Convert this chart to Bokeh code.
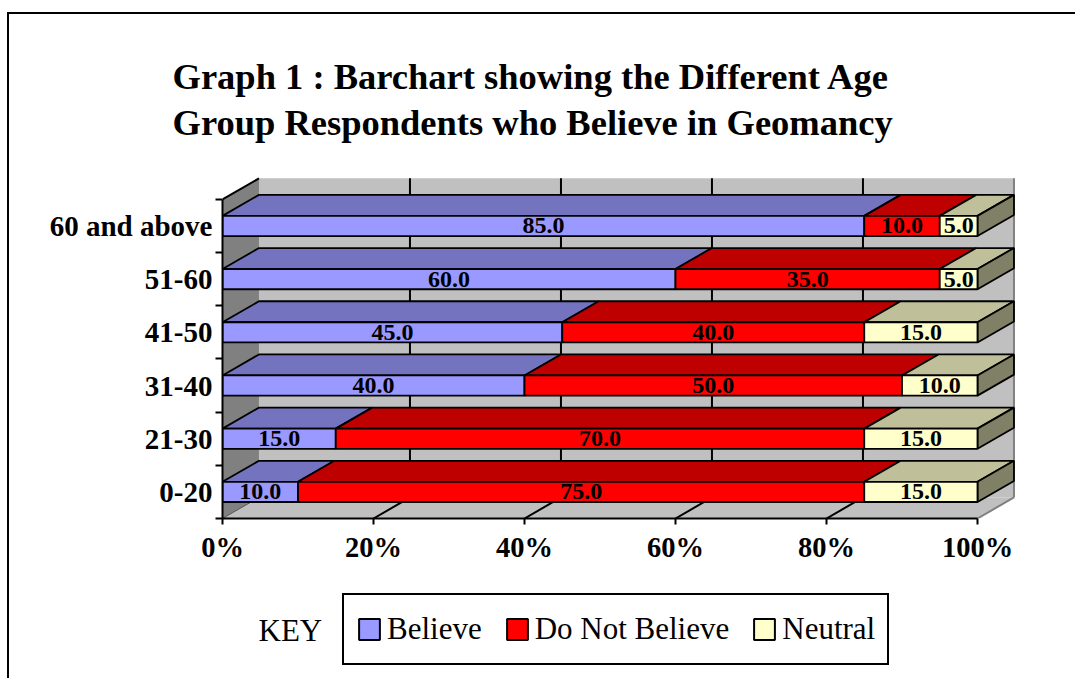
from bokeh.plotting import figure
from bokeh.layouts import column
from bokeh.models import (ColumnDataSource, Range1d, FixedTicker, LinearAxis,
                          Legend, LegendItem, Label)
from bokeh.core.properties import value
from bokeh.embed import file_html
from bokeh.resources import INLINE

# ---------------- data ----------------
categories = ["0-20", "21-30", "31-40", "41-50", "51-60", "60 and above"]
believe = [10.0, 15.0, 40.0, 45.0, 60.0, 85.0]
not_believe = [75.0, 70.0, 50.0, 40.0, 35.0, 10.0]
neutral = [15.0, 15.0, 10.0, 15.0, 5.0, 5.0]
series_names = ["Believe", "Do Not Believe", "Neutral"]
x_ticks = [0, 20, 40, 60, 80, 100]
x_tick_labels = ["0%", "20%", "40%", "60%", "80%", "100%"]

front_colors = ["#9999FF", "#FF0000", "#FFFFCC"]
top_colors = ["#7373BF", "#BF0000", "#BFBF99"]
side_colors = ["#4D4D80", "#800000", "#808066"]

# 3-D geometry (data units)
DX = 4.83      # depth offset along x (percent units)
DY = 0.395     # depth offset along y (category units)
HALF = 0.19    # half thickness of a bar
NROW = len(categories)
FONT = "Liberation Serif"

W = 1066
BL, BR = 213, 53
p = figure(width=W, height=570, output_backend="svg", toolbar_location=None,
           x_range=Range1d(0, 105.96), y_range=Range1d(0, 6.43),
           min_border_left=BL, min_border_right=BR, min_border_top=162,
           min_border_bottom=66, x_axis_location=None, y_axis_location=None)
p.outline_line_color = None
p.xgrid.grid_line_color = None
p.ygrid.grid_line_color = None
p.background_fill_color = "white"
p.border_fill_color = "white"

# title
p.title.text = "Graph 1 : Barchart showing the Different Age\nGroup Respondents who Believe in Geomancy"
p.title.text_font = FONT
p.title.text_font_size = "36.5px"
p.title.text_font_style = "bold"
p.title.text_color = "black"
p.title.align = "left"
p.title.offset = -50
p.title.standoff = 66
p.title.text_line_height = 1.13

# ---------------- walls and floor ----------------
p.patch([DX, 100 + DX, 100 + DX, DX], [DY, DY, NROW + DY, NROW + DY],
        fill_color="#C0C0C0", line_color=None)
p.patch([0, DX, DX, 0], [0, DY, NROW + DY, NROW], fill_color="#808080", line_color=None)
p.patch([0, 100, 100 + DX, DX], [0, 0, DY, DY], fill_color="#C0C0C0", line_color=None)
p.line([100 + DX, 100 + DX], [DY, NROW + DY], line_color="#808080", line_width=2)
p.line([100, 100 + DX], [0, DY], line_color="#808080", line_width=2)
p.line([0, DX], [NROW, NROW + DY], line_color="black", line_width=2)
p.line([0, DX], [0, DY], line_color="#555555", line_width=1)

grid_x = [t for t in x_ticks if 0 < t < 100]
p.multi_line([[g + DX, g + DX] for g in grid_x], [[DY, NROW + DY] for g in grid_x],
             line_color="black", line_width=2)
p.multi_line([[g, g + DX] for g in grid_x], [[0, DY] for g in grid_x],
             line_color="black", line_width=2)

# ---------------- bars ----------------
series = [believe, not_believe, neutral]
fronts = []
label_x, label_y, label_t = [], [], []
for s, vals in enumerate(series):
    fx, fy, tx, ty, sx, sy = [], [], [], [], [], []
    for i in range(NROW):
        x0 = sum(series[k][i] for k in range(s))
        x1 = x0 + vals[i]
        ylo, yhi = i + 0.5 - HALF, i + 0.5 + HALF
        fx.append([x0, x1, x1, x0]); fy.append([ylo, ylo, yhi, yhi])
        tx.append([x0, x1, x1 + DX, x0 + DX]); ty.append([yhi, yhi, yhi + DY, yhi + DY])
        if s == len(series) - 1:
            sx.append([x1, x1 + DX, x1 + DX, x1]); sy.append([ylo, ylo + DY, yhi + DY, yhi])
        label_x.append((x0 + x1) / 2); label_y.append(i + 0.5); label_t.append(f"{vals[i]:.1f}")
    p.patches(tx, ty, fill_color=top_colors[s], line_color="black", line_width=1.8)
    if sx:
        p.patches(sx, sy, fill_color=side_colors[s], line_color="black", line_width=1.8)
    p.patches(fx, fy, fill_color=front_colors[s], line_color="black", line_width=1.8)
    fronts.append((fx, fy))

lbl = ColumnDataSource(dict(x=label_x, y=label_y, t=label_t))
p.text("x", "y", text="t", source=lbl, text_font=value(FONT), text_font_size="24px",
       text_font_style="bold", text_align="center", text_baseline="middle",
       text_color="black", y_offset=0)

# ---------------- axes ----------------
xaxis = LinearAxis(ticker=FixedTicker(ticks=x_ticks),
                   major_label_overrides={t: l for t, l in zip(x_ticks, x_tick_labels)},
                   bounds=(0, 100))
xaxis.axis_line_width = 2
xaxis.major_tick_line_width = 2
xaxis.major_tick_out = 6
xaxis.major_tick_in = 0
xaxis.minor_tick_line_color = None
xaxis.major_label_text_font = FONT
xaxis.major_label_text_font_size = "28.5px"
xaxis.major_label_text_font_style = "bold"
xaxis.major_label_text_color = "black"
xaxis.major_label_standoff = 7
p.add_layout(xaxis, "below")

centers = [i + 0.5 for i in range(NROW)]
yaxis = LinearAxis(ticker=FixedTicker(ticks=centers, minor_ticks=list(range(NROW + 1))),
                   major_label_overrides={c: n for c, n in zip(centers, categories)},
                   bounds=(0, NROW))
yaxis.axis_line_width = 2
yaxis.major_tick_line_color = None
yaxis.major_tick_out = 0
yaxis.major_tick_in = 0
yaxis.minor_tick_line_width = 2
yaxis.minor_tick_out = 7
yaxis.minor_tick_in = 0
yaxis.major_label_text_font = FONT
yaxis.major_label_text_font_size = "29px"
yaxis.major_label_text_font_style = "bold"
yaxis.major_label_text_color = "black"
yaxis.major_label_standoff = 3
p.add_layout(yaxis, "left")

# ---------------- legend strip ----------------
H2 = 94
p2 = figure(width=W, height=H2, output_backend="svg", toolbar_location=None,
            x_range=Range1d(0, W - BL - BR), y_range=Range1d(0, H2),
            min_border_left=BL, min_border_right=BR, min_border_top=0, min_border_bottom=0,
            x_axis_location=None, y_axis_location=None)
p2.outline_line_color = None
p2.xgrid.grid_line_color = None
p2.ygrid.grid_line_color = None
p2.background_fill_color = "white"
p2.border_fill_color = "white"

key_r = [p2.patches(fx, fy, fill_color=c, line_color="black", line_width=2, visible=False)
         for (fx, fy), c in zip(fronts, front_colors)]
legend = Legend(items=[LegendItem(label=n, renderers=[r]) for n, r in zip(series_names, key_r)],
                orientation="horizontal", location=(120, 13))
legend.label_text_font = FONT
legend.label_text_font_size = "31px"
legend.label_text_color = "black"
legend.glyph_width = 26
legend.glyph_height = 26
legend.label_standoff = 5
legend.spacing = 22
legend.padding = 12
legend.label_height = 44
legend.margin = 0
legend.inactive_fill_alpha = 0
legend.border_line_color = "black"
legend.border_line_alpha = 1
legend.border_line_width = 2
legend.background_fill_color = "white"
legend.background_fill_alpha = 1
p2.add_layout(legend, "center")

key = Label(x=36, y=48, x_units="screen", y_units="screen", text="KEY",
            text_font=FONT, text_font_size="31px", text_baseline="alphabetic",
            text_color="black")
p2.add_layout(key)

layout = column(p, p2, spacing=0,
                styles={"border-left": "2px solid black", "border-top": "2px solid black",
                        "margin-left": "7px", "margin-top": "12px"})

open("out.html", "w").write(file_html(layout, INLINE))
